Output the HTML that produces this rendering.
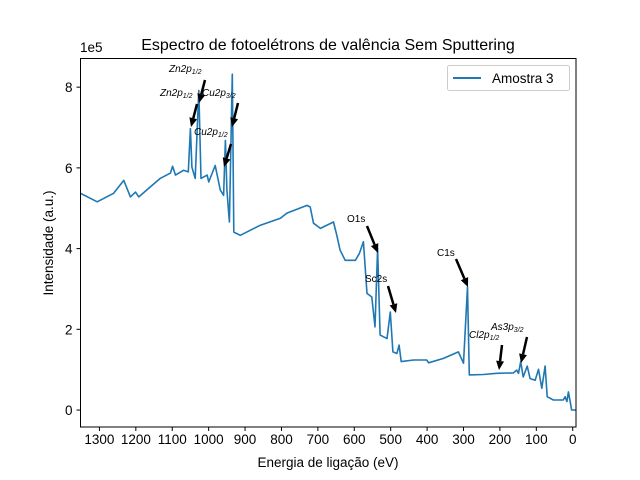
<!DOCTYPE html>
<html><head><meta charset="utf-8"><style>
body{margin:0;background:#fff}
svg{display:block;font-family:"Liberation Sans","DejaVu Sans",sans-serif}
</style></head><body>
<svg id="chart" width="640" height="480" viewBox="0 0 640 480" xmlns="http://www.w3.org/2000/svg">
<rect width="640" height="480" fill="#fff"/>
<text x="328" y="50" font-size="16" text-anchor="middle">Espectro de fotoelétrons de valência Sem Sputtering</text>
<g id="plot"></g>
<text x="328" y="467" font-size="13.5" text-anchor="middle">Energia de ligação (eV)</text>
<text x="0" y="0" font-size="13.5" text-anchor="middle" transform="translate(53,243) rotate(-90)">Intensidade (a.u.)</text>
<text x="80" y="52" font-size="13.5">1e5</text>
<g>
<rect x="447.5" y="65.5" width="122" height="25" rx="2" fill="#fff" stroke="#ccc"/>
<line x1="453" y1="78" x2="481" y2="78" stroke="#1f77b4" stroke-width="2"/>
<text x="492" y="83" font-size="13.5">Amostra 3</text>
</g>
</svg>
<script>
const energies=[1352,1306,1261,1233,1215,1201,1192,1133,1105,1099,1091,1069,1056,1050,1046,1037,1027,1021,1004,1000,982,968,959,954,950,943,935,931,913,858,803,785,730,721,712,693,657,648,639,625,597,586,575,565,552,543,536,529,510,501,494,483,477,471,437,401,396,355,314,300,289,284,245,209,163,154,149,143,136,125,117,103,94,85,76,70,53,26,21,16,12,7,3,-9];
const intensity=[5.37,5.16,5.37,5.69,5.28,5.40,5.28,5.74,5.87,6.04,5.82,5.94,5.90,6.97,6.02,5.74,7.92,5.74,5.82,5.65,6.06,5.45,5.32,6.68,5.45,4.66,8.32,4.41,4.33,4.58,4.75,4.88,5.07,5.03,4.63,4.50,4.66,4.33,3.96,3.71,3.71,3.88,4.17,2.89,2.80,2.06,4.00,1.86,1.77,2.43,1.44,1.40,1.61,1.20,1.24,1.24,1.17,1.28,1.44,1.16,3.05,0.87,0.88,0.91,0.92,0.99,0.91,1.20,0.82,1.09,0.78,0.74,1.01,0.54,1.09,0.33,0.25,0.25,0.33,0.21,0.45,0.21,0,0];
const xTicks=[1300,1200,1100,1000,900,800,700,600,500,400,300,200,100,0];
const yTicks=[0,2,4,6,8];
const NS="http://www.w3.org/2000/svg";
const L=80.5,R=576,T=58.5,B=427;
const xMax=1352,xMin=-9,yMin=-0.42,yMax=8.71;
function xs(v){return L+(xMax-v)/(xMax-xMin)*(R-L);}
function ys(v){return B-(v-yMin)/(yMax-yMin)*(B-T);}
const g=document.getElementById('plot');
function mk(t,a){const e=document.createElementNS(NS,t);for(const k in a)e.setAttribute(k,a[k]);g.appendChild(e);return e;}
let d='';energies.forEach((e,i)=>{d+=(i?'L':'M')+xs(e).toFixed(1)+','+ys(intensity[i]).toFixed(1);});
const line=mk('path',{d:d,fill:'none',stroke:'#1f77b4','stroke-width':1.6,'stroke-linejoin':'round'});


const fr=mk('rect',{x:L,y:T,width:R-L,height:B-T,fill:'none',stroke:'#000','stroke-width':1});


xTicks.forEach(v=>{const x=xs(v);mk('line',{x1:x,y1:B,x2:x,y2:B+4,stroke:'#000'});
const t=mk('text',{x:x,y:B+17,'font-size':13.5,'text-anchor':'middle'});t.textContent=v;

});
yTicks.forEach(v=>{const y=ys(v);mk('line',{x1:L,y1:y,x2:L-4,y2:y,stroke:'#000'});
const t=mk('text',{x:L-8,y:y+5,'font-size':13.5,'text-anchor':'end'});t.textContent=v;

});
// annotations (pixel placement)
const ann=[
 ['Zn2p','1/2',169,72,205,80,199,103],
 ['Zn2p','1/2',160,96,197,104,191,127],
 ['Cu2p','3/2',202,96,238,103,232,127],
 ['Cu2p','1/2',194,135,231,144,224,167],
 ['O1s','',347,222,367,226,378,253],
 ['Sc2s','',365,282,388,286,396,313],
 ['C1s','',437,256,456,259,468,287],
 ['Cl2p','1/2',469,338,502,345,499,370],
 ['As3p','3/2',491,330,527,337,521,363]];
ann.forEach(a=>{
 const t=mk('text',{x:a[2],y:a[3],'font-size':10,'font-style':a[1]?'italic':'normal'});
 
 
 t.textContent=a[0];
 if(a[1]){const s=document.createElementNS(NS,'tspan');s.setAttribute('font-size',7);s.setAttribute('dy',2);s.textContent=a[1];t.appendChild(s);}
 const x1=a[4],y1=a[5],x2=a[6],y2=a[7];
 const dx=x2-x1,dy=y2-y1,len=Math.hypot(dx,dy),ux=dx/len,uy=dy/len;
 const hx=x2-ux*9,hy=y2-uy*9;
 mk('line',{x1:x1,y1:y1,x2:hx,y2:hy,stroke:'#000','stroke-width':2.5});
 const p=mk('polygon',{points:`${x2},${y2} ${hx-uy*4},${hy+ux*4} ${hx+uy*4},${hy-ux*4}`,fill:'#000'});
 
 
});
</script>
</body></html>
